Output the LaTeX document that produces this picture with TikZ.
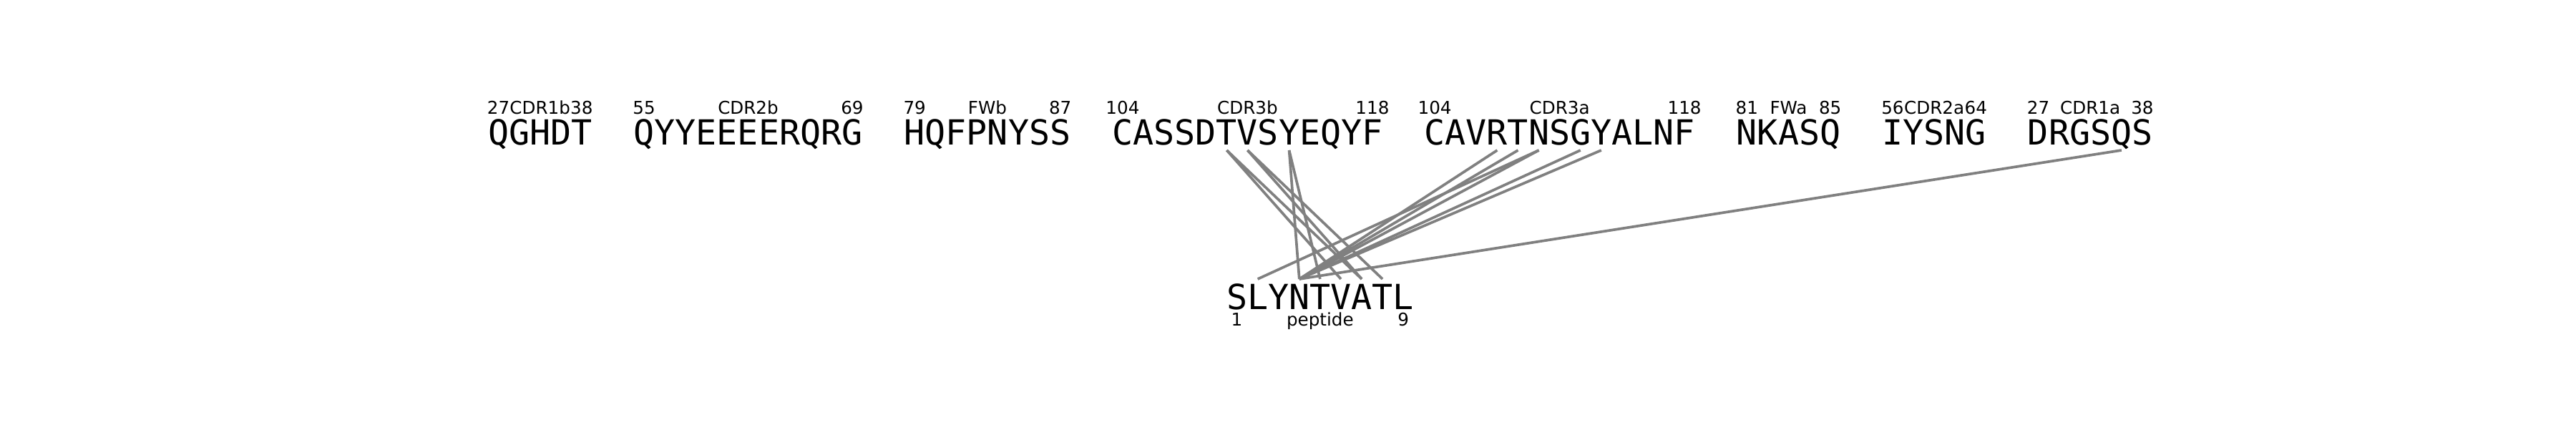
\documentclass[tikz,border=0pt]{standalone}
\usepackage{fontspec}
\newfontfamily\seqfont{DejaVu Sans Mono}
\newfontfamily\lblfont{DejaVu Sans}
\newcommand\mytoprow[2]{%
  \foreach \c [count=\i from #1] in {#2} {\node[res] (t\i) at ({6.82+0.2908*(\i+0.5)},3.98) {\c};}}
\newcommand\mygrp[5]{%
  \node[lbl] (ls#1) at ({6.82+0.2908*(#1+0.5)},4.40) {#3};
  \node[lbl] (lc#1) at ({6.82+0.2908*((#1+#2)/2+0.5)},4.40) {#4};
  \node[lbl] (le#1) at ({6.82+0.2908*(#2+0.5)},4.40) {#5};}
\begin{document}
\begin{tikzpicture}[
  res/.style={anchor=base, inner sep=0pt, font=\seqfont\fontsize{13.75}{16}\selectfont},
  lbl/.style={anchor=base, inner sep=0pt, font=\lblfont\fontsize{7}{8}\selectfont},
  contact/.style={draw=gray, line width=1.05pt}]
\useasboundingbox (0,0) rectangle (36,6);
% top row (TCR)
\mytoprow{0}{Q,G,H,D,T}
\mytoprow{7}{Q,Y,Y,E,E,E,E,R,Q,R,G}
\mytoprow{20}{H,Q,F,P,N,Y,S,S}
\mytoprow{30}{C,A,S,S,D,T,V,S,Y,E,Q,Y,F}
\mytoprow{45}{C,A,V,R,T,N,S,G,Y,A,L,N,F}
\mytoprow{60}{N,K,A,S,Q}
\mytoprow{67}{I,Y,S,N,G}
\mytoprow{74}{D,R,G,S,Q,S}
\mygrp{0}{4}{27}{CDR1b}{38}
\mygrp{7}{17}{55}{CDR2b}{69}
\mygrp{20}{27}{79}{FWb}{87}
\mygrp{30}{42}{104}{CDR3b}{118}
\mygrp{45}{57}{104}{CDR3a}{118}
\mygrp{60}{64}{81}{FWa}{85}
\mygrp{67}{71}{56}{CDR2a}{64}
\mygrp{74}{79}{27}{CDR1a}{38}
% peptide
\foreach \c [count=\i from 0] in {S,L,Y,N,T,V,A,T,L} {\node[res] (p\i) at ({17.14+0.2908*(\i+0.5)},1.68) {\c};}
\node[lbl] (pl1) at (p0.base |- 0,1.45) {1};
\node[lbl] (plc) at (p4.base |- 0,1.45) {peptide};
\node[lbl] (pl9) at (p8.base |- 0,1.45) {9};
% contacts
\foreach \a/\b in {35/5,35/6,36/6,36/7,38/4,38/3,48/3,49/3,50/1,50/3,52/3,53/3,78/3}
  {\draw[contact] ([yshift=-0.08cm]t\a.base) -- ([yshift=0.42cm]p\b.base);}
\end{tikzpicture}
\end{document}
